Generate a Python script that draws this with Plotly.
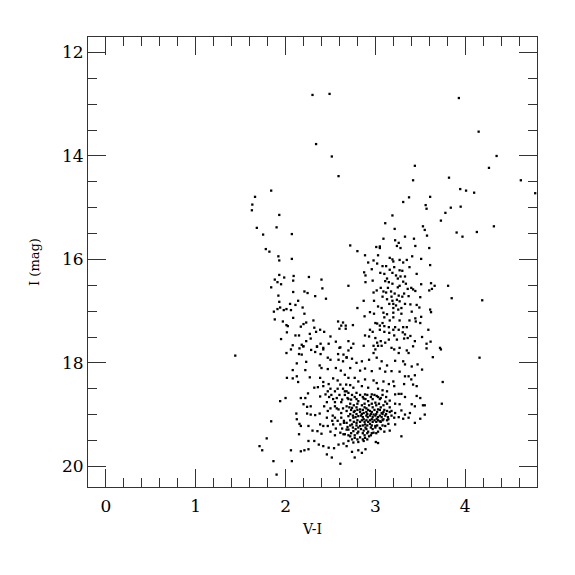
import plotly.graph_objects as go

# (V-I, I) pairs, grouped by region of the diagram
bright = [(2.30,12.82),(2.49,12.80),(2.34,13.77),(2.515,14.01),(2.59,14.39),(3.93,12.88),(4.15,13.53),
          (4.35,14.0),(4.265,14.23),(3.44,14.19),(3.42,14.47),(3.82,14.42),(4.62,14.47),(4.78,14.72),
          (3.945,14.64),(4.01,14.67),(4.10,14.71)]

upper_left = [(1.84,14.67),(1.66,14.79),(1.63,14.94),(1.625,15.05),(1.93,15.14),(1.68,15.39),(1.90,15.38),
              (1.75,15.52),(2.07,15.51),(1.78,15.80),(1.82,15.85),(1.92,15.94),(1.93,16.02),(2.07,15.99)]

upper_right = [(3.375,14.80),(3.31,14.89),(3.19,15.15),(3.11,15.30),(3.215,15.41),(3.09,15.60),(3.33,15.56),
               (3.61,14.79),(3.56,14.95),(3.57,15.02),(3.84,15.0),(3.95,14.98),(3.78,15.10),(3.73,15.25),
               (3.53,15.36),(3.55,15.43),(3.575,15.54),(4.32,15.36),(3.905,15.48),(3.97,15.56),(4.13,15.47),
               (3.43,15.60),(3.22,15.63),(3.26,15.68),(3.445,15.74),(3.24,15.74),(3.28,15.78),(3.60,15.78),
               (3.01,15.76),(3.05,15.75),(3.05,15.78),(2.72,15.73),(2.80,15.84),(2.885,15.92),(3.03,15.92),
               (3.16,15.97),(3.19,16.00),(3.20,16.04),(3.27,16.01),(3.31,16.06),(3.35,16.01),(3.41,15.94),
               (3.51,15.99),(2.98,16.02),(2.92,16.06),(3.02,16.08)]

sparse = [(3.81,16.51),(3.85,16.75),(4.19,16.79),(3.73,17.74),(4.16,17.90),(3.75,18.37),(3.74,18.79),(1.44,17.86)]

blue_branch = [(1.93,16.30),(1.985,16.35),(2.09,16.32),(2.085,16.41),(2.26,16.34),(1.88,16.39),(1.91,16.44),
               (1.95,16.48),(1.84,16.54),(2.40,16.39),(2.41,16.56),(2.70,16.51),(2.085,16.63),(2.21,16.62),
               (2.245,16.65),(2.33,16.71),(2.45,16.76),(1.92,16.70),(1.93,16.82),(2.14,16.80),(2.05,16.86),
               (2.11,16.88),(2.19,16.93),(1.94,16.93),(1.91,16.96),(1.98,16.98),(2.01,16.96),(2.06,16.98),
               (1.87,17.01),(2.21,17.05),(2.085,17.13),(1.88,17.16),(1.97,17.20),(2.01,17.27),(2.025,17.29),
               (2.23,17.22),(2.20,17.25),(2.17,17.30),(2.31,17.18),(2.32,17.32),(2.385,17.36),(2.34,17.40),
               (2.43,17.40),(2.015,17.41),(2.11,17.47),(2.15,17.47),(1.95,17.54),(2.50,17.49),(2.27,17.44),
               (2.28,17.53),(2.23,17.58),(2.08,17.66),(2.18,17.65),(2.195,17.68),(2.35,17.68),(2.39,17.63),
               (2.42,17.71),(2.48,17.63),(2.56,17.59),(2.61,17.70),(2.585,17.20),(2.64,17.22),(2.62,17.28),
               (2.60,17.34),(2.67,17.28),(2.67,17.34),(2.70,17.58)]

red_branch = [(3.61,16.11),(2.96,16.19),(2.875,16.25),(2.89,16.31),(3.08,16.13),(3.12,16.13),(3.16,16.20),
              (3.21,16.15),(3.27,16.21),(3.30,16.22),(3.38,16.15),(3.055,16.26),(3.10,16.28),(3.19,16.26),
              (3.23,16.31),(3.25,16.37),(3.28,16.33),(3.33,16.33),(3.46,16.28),(3.13,16.37),(3.11,16.42),
              (3.15,16.44),(2.89,16.44),(2.97,16.41),(3.19,16.47),(3.31,16.43),(3.34,16.47),(3.51,16.48),
              (3.62,16.46),(3.66,16.51),(3.25,16.54),(3.27,16.51),(3.36,16.57),(3.40,16.55),(3.42,16.58),
              (3.445,16.61),(3.63,16.57),(3.60,16.60),(3.015,16.60),(2.98,16.64),(3.09,16.62),(3.12,16.64),
              (3.175,16.62),(3.215,16.66),(3.32,16.66),(3.26,16.70),(3.37,16.71),(3.50,16.73),(2.87,16.80),
              (2.985,16.80),(3.13,16.77),(3.19,16.80),(3.24,16.78),(3.27,16.81),(3.155,16.86),(3.20,16.86),
              (3.23,16.89),(3.33,16.86),(3.39,16.87),(3.46,16.88),(3.49,16.93),(3.03,16.91),(3.07,16.94),
              (3.20,16.94),(3.255,16.97),(3.29,16.94),(2.80,16.94),(2.94,17.02),(2.985,17.05),(3.09,17.03),
              (3.13,17.06),(3.20,17.03),(3.29,17.05),(3.405,17.01),(3.61,16.97),(3.62,17.02),(2.88,17.10),
              (3.10,17.12),(3.20,17.12),(3.445,17.14),(3.51,17.11),(2.75,17.27),(3.00,17.23),(3.02,17.24),
              (3.08,17.23),(3.05,17.28),(3.10,17.29),(3.15,17.31),(3.22,17.31),(3.31,17.31),(3.35,17.31),
              (3.45,17.20),(3.50,17.23),(2.94,17.36),(2.97,17.40),(3.10,17.40),(3.155,17.42),(3.21,17.47),
              (3.305,17.41),(3.33,17.45),(3.39,17.48),(3.59,17.36),(2.885,17.47),(2.93,17.49),(3.00,17.52),
              (3.06,17.58),(3.02,17.61),(3.11,17.61),(3.32,17.53),(3.36,17.52),(3.52,17.50),(3.44,17.58),
              (2.755,17.63),(2.87,17.67),(2.98,17.67),(3.03,17.67),(3.07,17.67),(3.18,17.71),(3.27,17.71),
              (3.57,17.63),(3.615,17.59),(3.72,17.71),
              (3.06,16.55),(3.14,16.55),(3.08,16.72),(3.18,16.72),(3.30,16.72),(3.16,17.18),(3.27,17.18),
              (3.38,17.18),(3.05,17.36),(3.20,17.36),(3.26,17.36),(3.15,17.55),(3.24,17.55)]

faint_left = [(2.01,17.81),(2.06,17.74),(2.20,17.68),(2.155,17.72),(2.15,17.83),(2.18,17.84),(2.285,17.75),
              (2.33,17.79),(2.35,17.69),(2.42,17.74),(2.39,17.83),(2.47,17.90),(2.50,17.94),(2.60,17.71),
              (2.585,17.83),(2.645,17.84),(2.68,17.90),(2.59,17.94),(2.64,17.97),(2.23,17.98),(2.125,18.01),
              (2.22,18.14),(2.08,18.14),(2.38,18.05),(2.40,18.10),(2.47,18.12),(2.56,18.10),(2.615,18.15),
              (2.015,18.29),(2.08,18.30),(2.125,18.26),(2.14,18.37),(2.27,18.28),(2.385,18.29),(2.42,18.37),
              (2.53,18.30),(2.58,18.34),(2.61,18.42),(2.32,18.48),(2.36,18.47),(2.42,18.45),(2.48,18.41),
              (2.50,18.50),(2.55,18.55),(2.47,18.55),(2.675,18.42),(2.68,18.55),(2.25,18.59),(2.22,18.68),
              (2.17,18.68),(2.00,18.68),(1.94,18.74),(2.385,18.65),(2.445,18.61),(2.485,18.66),(2.53,18.70),
              (2.57,18.68),(2.63,18.71),(2.69,18.68),(2.20,18.80),(2.24,18.85),(2.28,18.84),(2.12,18.98),
              (2.24,18.98),(2.28,19.00),(2.33,19.01),(2.38,18.98),(2.47,18.93),(2.525,19.02),(2.59,18.90),
              (2.62,18.97),(2.68,18.93),(2.55,18.84),(2.43,18.84),(1.84,19.13),(2.125,19.09),(2.155,19.18),
              (2.17,19.22),(2.255,19.22),(2.385,19.19),(2.42,19.22),(2.47,19.22),(2.53,19.19),(2.61,19.19),
              (2.65,19.16),(2.69,19.24),(2.30,19.31),(2.355,19.32),(2.40,19.37),(2.50,19.33),(2.55,19.40),
              (2.61,19.35),(2.645,19.38),(2.68,19.29),(2.15,19.38),(2.255,19.51),(2.32,19.51),(2.37,19.58),
              (2.42,19.61),(2.48,19.64),(2.54,19.65),(2.59,19.58),(2.645,19.56),(2.17,19.71),(2.21,19.69),
              (2.255,19.67),(2.06,19.69),(2.46,19.77),(2.515,19.83),(2.61,19.95),(1.71,19.61),(1.74,19.69),
              (1.79,19.46),(1.865,19.90),(2.07,19.90),(1.90,20.16),
              (2.58,18.50),(2.64,18.50),(2.51,18.62),(2.60,18.62),(2.66,18.62),(2.46,18.76),(2.55,18.76),
              (2.62,18.76),(2.50,18.88),(2.57,18.88),(2.64,18.88),(2.46,19.06),(2.55,19.06),(2.62,19.06),
              (2.52,19.12),(2.58,19.12),(2.65,19.12),(2.56,19.27),(2.63,19.27)]

faint_clump = [(2.70,17.76),(2.73,17.71),(2.98,17.81),(3.00,17.74),(3.21,17.74),(3.26,17.81),(3.35,17.76),
               (3.37,17.81),(3.42,17.68),(3.57,17.72),(3.64,17.89),(2.68,17.89),(2.74,17.92),(2.79,18.00),
               (2.85,17.97),(2.93,17.94),(3.015,17.90),(3.07,17.97),(3.13,18.05),(3.22,17.96),(3.31,17.97),
               (3.33,18.03),(3.405,18.07),(3.47,18.03),(3.52,18.13),(2.72,18.10),(2.83,18.15),(2.885,18.11),
               (2.96,18.16),(3.05,18.11),(3.11,18.17),(3.18,18.16),(3.27,18.17),(3.37,18.26),(3.44,18.24),
               (3.33,18.26),(2.66,18.23),(2.70,18.29),(2.77,18.29),(2.81,18.36),(2.885,18.32),(2.98,18.34),
               (3.015,18.39),(3.09,18.36),(3.15,18.41),(3.20,18.36),(3.21,18.45),(3.32,18.41),(3.40,18.32),
               (3.42,18.42),(3.46,18.45),(2.72,18.43),(2.755,18.48),(2.85,18.45),(2.92,18.48),(3.03,18.50),
               (3.08,18.53),(3.13,18.55),(2.66,18.55),(2.70,18.58),(2.79,18.58),(2.885,18.61),(2.96,18.61),
               (3.015,18.64),(3.06,18.68),(3.22,18.61),(3.26,18.60),(3.29,18.60),(3.33,18.66),(3.46,18.64),
               (3.50,18.68),(2.73,18.71),(2.81,18.74),(2.87,18.69),(2.92,18.74),(3.00,18.77),(3.11,18.75),
               (3.16,18.73),(3.22,18.79),(3.27,18.80),(3.405,18.80),(3.44,18.84),(3.53,18.82),(3.55,18.82),
               (2.68,18.84),(2.74,18.87),(2.77,18.93),(2.83,18.90),(2.87,18.97),(2.90,18.88),(2.94,18.93),
               (2.98,19.00),(3.03,18.90),(3.07,18.97),(3.13,18.93),(3.18,18.93),(3.22,18.97),(3.29,18.92),
               (3.33,19.00),(3.385,18.97),(2.70,19.03),(2.755,19.06),(2.81,19.03),(2.87,19.09),(2.915,19.05),
               (2.96,19.09),(3.015,19.08),(3.05,19.13),(3.09,19.09),(3.145,19.09),(3.21,19.06),(3.26,19.05),
               (3.31,19.08),(3.37,19.06),(3.44,19.16),(3.55,19.00),(3.50,19.08),(2.68,19.16),(2.74,19.19),
               (2.79,19.16),(2.83,19.22),(2.885,19.19),(2.94,19.18),(3.00,19.22),(3.05,19.26),(3.11,19.22),
               (3.145,19.18),(3.22,19.19),(2.70,19.29),(2.755,19.32),(2.81,19.33),(2.87,19.31),(2.92,19.33),
               (2.98,19.35),(3.03,19.33),(3.10,19.33),(3.16,19.31),(2.66,19.38),(2.72,19.42),(2.77,19.45),
               (2.83,19.44),(2.885,19.45),(2.93,19.42),(3.29,19.42),(2.70,19.51),(2.755,19.54),(2.81,19.53),
               (2.87,19.51),(3.005,19.53),(3.03,19.55),(2.81,19.69),(2.85,19.74),(2.89,19.67),(2.77,19.83),
               (2.74,19.72),(2.68,19.61)]

dense_core = [(2.74,18.62),(2.83,18.62),(2.91,18.62),(2.99,18.62),(3.08,18.62),
              (2.77,18.66),(2.86,18.66),(2.95,18.66),(3.03,18.66),(3.12,18.66),
              (2.70,18.70),(2.79,18.70),(2.89,18.70),(2.97,18.70),(3.05,18.70),
              (2.72,18.79),(2.80,18.79),(2.88,18.79),(2.96,18.79),(3.04,18.79),(3.13,18.79),
              (2.76,18.82),(2.85,18.82),(2.93,18.82),(3.01,18.82),(3.09,18.82),
              (2.71,18.86),(2.79,18.86),(2.88,18.86),(2.97,18.86),(3.06,18.86),(3.16,18.86),
              (2.73,18.91),(2.80,18.91),(2.86,18.91),(2.92,18.91),(2.99,18.91),(3.05,18.91),(3.10,18.91),
              (2.76,18.95),(2.83,18.95),(2.90,18.95),(2.96,18.95),(3.02,18.95),(3.09,18.95),(3.16,18.95),
              (2.72,18.99),(2.79,18.99),(2.85,18.99),(2.91,18.99),(2.95,18.99),(3.01,18.99),(3.08,18.99),(3.12,18.99),
              (2.75,19.02),(2.84,19.02),(2.90,19.02),(2.94,19.02),(3.00,19.02),(3.05,19.02),(3.11,19.02),(3.18,19.02),
              (2.78,19.05),(2.86,19.05),(2.97,19.05),(3.03,19.05),(3.07,19.05),(3.14,19.05),
              (2.72,19.11),(2.80,19.11),(2.85,19.11),(2.90,19.11),(2.94,19.11),(2.99,19.11),(3.03,19.11),(3.08,19.11),(3.13,19.11),
              (2.76,19.14),(2.83,19.14),(2.88,19.14),(2.92,19.14),(2.97,19.14),(3.01,19.14),(3.06,19.14),
              (2.72,19.21),(2.79,19.21),(2.86,19.21),(2.91,19.21),(2.96,19.21),(3.02,19.21),(3.08,19.21),
              (2.75,19.25),(2.81,19.25),(2.89,19.25),(2.95,19.25),(3.00,19.25),
              (2.78,19.28),(2.84,19.28),(2.90,19.28),(2.97,19.28),(3.06,19.28),
              (2.73,19.36),(2.80,19.36),(2.86,19.36),(2.91,19.36),(2.96,19.36),(3.01,19.36),
              (2.70,19.40),(2.77,19.40),(2.88,19.40),(2.95,19.40),
              (2.74,19.48),(2.80,19.48),(2.86,19.48),(2.91,19.48)]

groups = [bright, upper_left, upper_right, sparse, blue_branch, red_branch, faint_left, faint_clump, dense_core]
vi = [p[0] for g in groups for p in g]
imag = [p[1] for g in groups for p in g]

x_ticks = [0, 1, 2, 3, 4]
y_ticks = [12, 14, 16, 18, 20]

fig = go.Figure(go.Scatter(
    x=vi, y=imag, mode="markers",
    marker=dict(symbol="square", size=2.3, color="black", line=dict(width=0)),
    hoverinfo="skip"))

axis_col = "#333333"
fnt = "DejaVu Serif"
common = dict(showgrid=False, zeroline=False, showline=True, linecolor=axis_col, linewidth=1,
              mirror="ticks", ticks="inside", ticklen=18, tickwidth=1, tickcolor=axis_col,
              tickfont=dict(family=fnt, size=17, color="black"))

# the page body adds an 8px offset, so the figure is 8px smaller and margins are shifted
fig.update_layout(
    width=567, height=567,
    margin=dict(l=80, r=38, t=29, b=88),
    paper_bgcolor="white", plot_bgcolor="white",
    showlegend=False,
    font=dict(family=fnt, color="black"),
    xaxis=dict(range=[-0.2, 4.8], tickvals=x_ticks, ticktext=[str(v) for v in x_ticks],
               minor=dict(dtick=0.2, tick0=0, ticks="inside", ticklen=9, tickcolor=axis_col, showgrid=False),
               title=dict(text="V-I", font=dict(family=fnt, size=14), standoff=8),
               ticklabelstandoff=4,
               **common),
    yaxis=dict(range=[20.4, 11.7], tickvals=y_ticks, ticktext=[str(v) for v in y_ticks],
               minor=dict(dtick=0.5, tick0=12, ticks="inside", ticklen=9, tickcolor=axis_col, showgrid=False),
               title=dict(text="I (mag)", font=dict(family=fnt, size=13), standoff=19),
               **common),
)

fig.write_html("out.html")
